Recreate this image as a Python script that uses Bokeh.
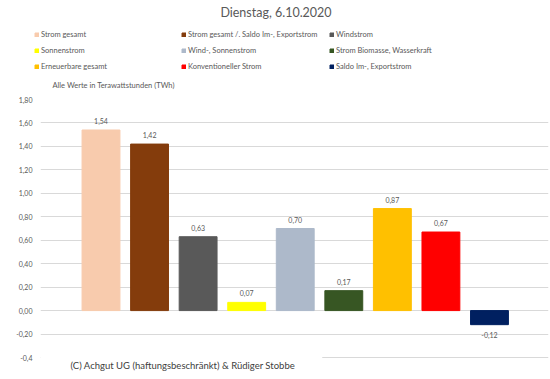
from bokeh.plotting import figure
from bokeh.models import (ColumnDataSource, Range1d, FixedTicker, Legend, LegendItem, Label)
from bokeh.core.properties import value
from bokeh.embed import file_html
from bokeh.resources import INLINE

# ---- data ----
categories = ["Strom gesamt", "Strom gesamt /. Saldo Im-, Exportstrom", "Windstrom",
              "Sonnenstrom", "Wind-, Sonnenstrom", "Strom Biomasse, Wasserkraft",
              "Erneuerbare gesamt", "Konventioneller Strom", "Saldo Im-, Exportstrom"]
values = [1.54, 1.42, 0.63, 0.07, 0.70, 0.17, 0.87, 0.67, -0.12]
colors = ["#F8CBAD", "#843C0C", "#595959", "#FFFF00", "#ADB9CA", "#375623",
          "#FFC000", "#FF0000", "#002060"]
y_ticks = [-0.4, -0.2, 0.0, 0.2, 0.4, 0.6, 0.8, 1.0, 1.2, 1.4, 1.6, 1.8]
y_tick_labels = ["-0,4", "-0,20", "0,00", "0,20", "0,40", "0,60", "0,80",
                 "1,00", "1,20", "1,40", "1,60", "1,80"]
title_text = "Dienstag, 6.10.2020"
unit_text = "Alle Werte in Terawattstunden (TWh)"
footer_text = "(C) Achgut UG (haftungsbeschränkt) & Rüdiger Stobbe"

FONT = "Lato"
GRAY = "#595959"

W = 550
TOP_H = 91
BOT_H = 379 - TOP_H
BL, BR = 40, 2

xs = list(range(1, len(values) + 1))
src = ColumnDataSource(dict(
    x=xs, top=values, color=colors, cat=categories,
    lab=[f"{v:.2f}".replace(".", ",") for v in values],
    off=[-9 if v >= 0 else 10 for v in values],
))

# ---------- top figure: title, legend, unit note ----------
t = figure(width=W, height=TOP_H, output_backend="svg", toolbar_location=None,
           x_range=Range1d(0, W), y_range=Range1d(TOP_H, 0),
           x_axis_location=None, y_axis_location=None,
           min_border_left=0, min_border_right=0, min_border_top=0, min_border_bottom=0)
t.outline_line_color = None
t.xgrid.visible = False
t.ygrid.visible = False
lbars = t.vbar(x="x", top="top", bottom=0, width=0.78, color="color", source=src)
lbars.visible = False

# one legend per column, rows read left-to-right
NCOL = 3
col_x = [34, 181, 329]
for c in range(NCOL):
    idx = list(range(c, len(categories), NCOL))
    items = [LegendItem(label=categories[i], renderers=[lbars], index=i) for i in idx]
    lg = Legend(items=items, location=(col_x[c], 19), orientation="vertical",
                label_text_font=FONT, label_text_font_size="7.5px", label_text_color=GRAY,
                glyph_width=5, glyph_height=5, label_standoff=2, label_height=11,
                label_width=20, spacing=5, padding=0, margin=0,
                border_line_color=None, background_fill_alpha=0)
    t.add_layout(lg, "center")

t.add_layout(Label(x=275.5, y=12, text=title_text, text_align="center",
                   text_baseline="middle", text_font=FONT, text_font_size="12.5px",
                   text_color=GRAY))
t.add_layout(Label(x=52, y=85, text=unit_text, text_align="left",
                   text_baseline="middle", text_font=FONT, text_font_size="7.5px",
                   text_color=GRAY))

# ---------- bottom figure: bars ----------
BT = 8
frame_w = W - BL - BR
XS = 48.56
X0 = 1 - 60.5 / XS
X1 = X0 + frame_w / XS
YS = 258 / 2.2
Y1 = 1.8
Y0 = -0.4 - 22 / YS

p = figure(width=W, height=BOT_H, output_backend="svg", toolbar_location=None,
           x_range=Range1d(X0, X1), y_range=Range1d(Y0, Y1),
           min_border_left=BL, min_border_right=BR, min_border_top=BT, min_border_bottom=0)
p.outline_line_color = None

p.vbar(x="x", top="top", bottom=0, width=0.78, color="color", source=src)
p.text(x="x", y="top", text="lab", y_offset="off", source=src, text_align="center",
       text_baseline="middle", text_font=value(FONT), text_font_size="7px", text_color=GRAY)

p.xaxis.visible = False
p.xgrid.visible = False
p.ygrid.ticker = FixedTicker(ticks=y_ticks)
p.ygrid.grid_line_color = "#D9D9D9"
ax = p.yaxis[0]
ax.ticker = FixedTicker(ticks=y_ticks)
ax.major_label_overrides = {tk: lb for tk, lb in zip(y_ticks, y_tick_labels)}
ax.axis_line_color = None
ax.major_tick_line_color = None
ax.minor_tick_line_color = None
ax.major_tick_out = 0
ax.major_label_standoff = 8
ax.major_label_text_font = FONT
ax.major_label_text_font_size = "7px"
ax.major_label_text_color = GRAY

# footer text box (padding given as left, right, top, bottom)
p.add_layout(Label(x=X0, y=-0.4 - 8 / YS, text=footer_text, text_align="left",
                   text_baseline="middle", text_font=FONT, text_font_size="9.5px",
                   text_color="#404040", background_fill_color="white",
                   padding=(30, 27, 8, 8)))

open("out.html", "w").write(file_html([t, p], INLINE))
